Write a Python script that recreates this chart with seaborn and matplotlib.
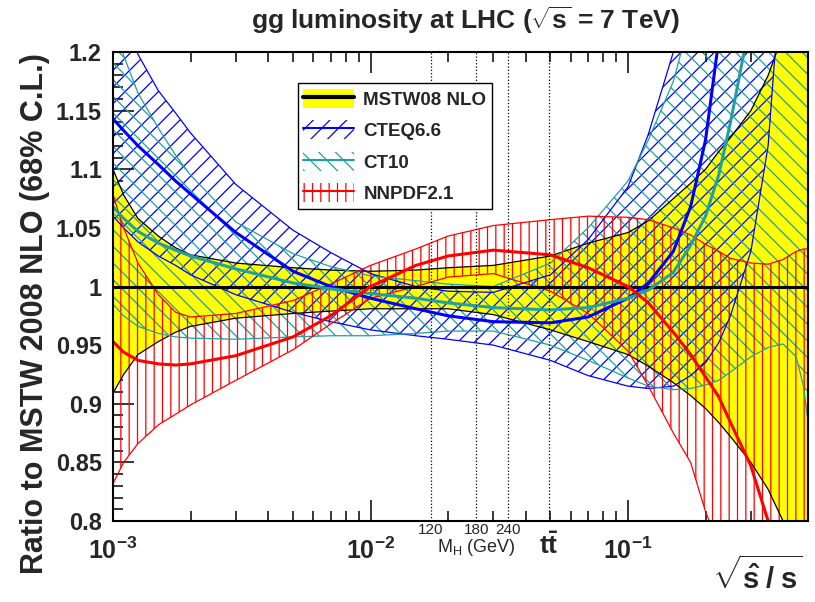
import matplotlib
matplotlib.use('Agg')
import matplotlib.pyplot as plt
import seaborn as sns
from matplotlib import font_manager
from matplotlib.patches import Patch
from matplotlib.lines import Line2D
from matplotlib.ticker import LogLocator, NullFormatter, MultipleLocator

# sqrt(shat/s) sampling points
tau = [0.001, 0.0011, 0.00125, 0.0015, 0.00175, 0.002, 0.003, 0.005, 0.007, 0.01,
       0.015, 0.02, 0.03, 0.05, 0.07, 0.1, 0.12, 0.15, 0.175, 0.2,
       0.225, 0.25, 0.3, 0.35, 0.4, 0.45, 0.48, 0.5]

# MSTW08 NLO band (central = 1)
mstw_c = [1.0] * len(tau)
mstw_up = [1.100, 1.078, 1.058, 1.043, 1.033, 1.027, 1.020, 1.016, 1.014, 1.013,
           1.014, 1.016, 1.018, 1.026, 1.037, 1.046, 1.056, 1.075, 1.088, 1.100,
           1.115, 1.127, 1.150, 1.180, 1.215, 1.250, 1.265, 1.280]
mstw_lo = [0.909, 0.925, 0.942, 0.953, 0.961, 0.966, 0.973, 0.977, 0.979, 0.981,
           0.981, 0.981, 0.976, 0.963, 0.953, 0.942, 0.932, 0.918, 0.907, 0.896,
           0.884, 0.872, 0.850, 0.827, 0.800, 0.770, 0.755, 0.740]

# CTEQ6.6
cteq_c = [1.143, 1.133, 1.120, 1.104, 1.090, 1.079, 1.046, 1.013, 1.000, 0.990,
          0.981, 0.975, 0.970, 0.969, 0.974, 0.990, 1.003, 1.030, 1.068, 1.125,
          1.210, 1.300, 1.450, 1.600, 1.800, 2.000, 2.100, 2.200]
cteq_up = [1.270, 1.235, 1.198, 1.167, 1.148, 1.131, 1.087, 1.048, 1.029, 1.011,
           1.000, 0.996, 0.995, 1.010, 1.040, 1.085, 1.130, 1.200, 1.270, 1.350,
           1.450, 1.550, 1.750, 1.950, 2.200, 2.400, 2.500, 2.600]
cteq_lo = [1.060, 1.050, 1.038, 1.026, 1.018, 1.010, 0.993, 0.978, 0.970, 0.963,
           0.958, 0.955, 0.950, 0.937, 0.924, 0.915, 0.913, 0.915, 0.924, 0.935,
           0.952, 0.975, 1.030, 1.120, 1.290, 1.450, 1.550, 1.650]

# CT10
ct10_c = [1.068, 1.058, 1.047, 1.037, 1.031, 1.026, 1.015, 1.003, 0.998, 0.994,
          0.990, 0.986, 0.982, 0.980, 0.982, 0.990, 0.997, 1.012, 1.035, 1.060,
          1.095, 1.140, 1.230, 1.330, 1.450, 1.550, 1.600, 1.650]
ct10_up = [1.240, 1.197, 1.165, 1.135, 1.112, 1.095, 1.055, 1.028, 1.017, 1.009,
           1.005, 1.002, 1.000, 1.020, 1.050, 1.090, 1.125, 1.175, 1.230, 1.290,
           1.350, 1.420, 1.550, 1.700, 1.850, 2.000, 2.100, 2.200]
ct10_lo = [0.985, 0.975, 0.966, 0.960, 0.957, 0.956, 0.955, 0.957, 0.958, 0.958,
           0.960, 0.962, 0.962, 0.950, 0.937, 0.922, 0.915, 0.912, 0.913, 0.916,
           0.920, 0.927, 0.940, 0.948, 0.951, 0.940, 0.915, 0.885]

# NNPDF2.1
nn_c = [0.953, 0.944, 0.937, 0.934, 0.933, 0.934, 0.941, 0.957, 0.975, 1.000,
        1.018, 1.026, 1.031, 1.027, 1.016, 1.000, 0.986, 0.961, 0.942, 0.923,
        0.906, 0.884, 0.847, 0.800, 0.760, 0.720, 0.700, 0.690]
nn_up = [1.078, 1.050, 1.020, 0.993, 0.978, 0.974, 0.977, 0.988, 1.002, 1.018,
         1.032, 1.043, 1.052, 1.057, 1.060, 1.059, 1.057, 1.050, 1.044, 1.036,
         1.030, 1.024, 1.020, 1.019, 1.023, 1.030, 1.032, 1.032]
nn_lo = [0.832, 0.850, 0.866, 0.882, 0.891, 0.899, 0.920, 0.946, 0.968, 0.990,
         1.000, 1.008, 1.011, 0.996, 0.977, 0.945, 0.915, 0.875, 0.850, 0.808,
         0.780, 0.750, 0.700, 0.650, 0.600, 0.550, 0.530, 0.500]

sqrt_s = 7000.0
mh_vals = [120, 180, 240]
m_top = 172.5

yticks = [0.8, 0.85, 0.9, 0.95, 1.0, 1.05, 1.1, 1.15, 1.2]
ytick_labels = ['0.8', '0.85', '0.9', '0.95', '1', '1.05', '1.1', '1.15', '1.2']
xticks = [1e-3, 1e-2, 1e-1]
xtick_labels = [r'$\mathbf{10^{-3}}$', r'$\mathbf{10^{-2}}$', r'$\mathbf{10^{-1}}$']

YELLOW = '#ffff00'
BLUE = '#0000ff'
TEAL = '#20a0a0'
RED = '#ff0000'

sns.set_style('ticks')
names = {f.name for f in font_manager.fontManager.ttflist}
FONT = 'Liberation Sans Narrow' if 'Liberation Sans Narrow' in names else 'Liberation Sans'
plt.rcParams['font.family'] = [FONT, 'DejaVu Sans']
plt.rcParams['mathtext.fontset'] = 'custom'
plt.rcParams['mathtext.rm'] = FONT
plt.rcParams['mathtext.it'] = FONT + ':italic'
plt.rcParams['mathtext.bf'] = FONT + ':bold'
plt.rcParams['mathtext.sf'] = FONT
plt.rcParams['hatch.linewidth'] = 0.9

fig = plt.figure(figsize=(8.15, 6.02), dpi=100)
ax = fig.add_axes([113 / 815, 81 / 602, 695 / 815, 469 / 602])
ax.set_xscale('log')
ax.set_xlim(1e-3, 0.5)
ax.set_ylim(0.8, 1.2)

# bands
ax.fill_between(tau, mstw_lo, mstw_up, facecolor=YELLOW, linewidth=0, zorder=1)
ax.fill_between(tau, cteq_lo, cteq_up, facecolor='none', edgecolor=BLUE,
                hatch='//', linewidth=0, zorder=3)
ax.fill_between(tau, ct10_lo, ct10_up, facecolor='none', edgecolor=TEAL,
                hatch='\\\\', linewidth=0, zorder=3)
ax.fill_between(tau, nn_lo, nn_up, facecolor='none', edgecolor=RED,
                hatch='||', linewidth=0, zorder=4)

# band edges
for arr, col in [(mstw_up, 'black'), (mstw_lo, 'black'),
                 (cteq_up, BLUE), (cteq_lo, BLUE),
                 (ct10_up, TEAL), (ct10_lo, TEAL),
                 (nn_up, RED), (nn_lo, RED)]:
    sns.lineplot(x=tau, y=arr, ax=ax, color=col, lw=0.9, zorder=5,
                 legend=False, sort=False, estimator=None)

# central values
for arr, col in [(mstw_c, 'black'), (cteq_c, BLUE), (ct10_c, TEAL), (nn_c, RED)]:
    sns.lineplot(x=tau, y=arr, ax=ax, color=col, lw=2.2, zorder=6,
                 legend=False, sort=False, estimator=None)

# Higgs masses and ttbar threshold
for m in mh_vals:
    ax.axvline(m / sqrt_s, ls=':', color='black', lw=0.9, zorder=7)
    ax.text(m / sqrt_s, -0.004, str(m), transform=ax.get_xaxis_transform(),
            ha='center', va='top', size=11)
ax.axvline(2 * m_top / sqrt_s, ls=':', color='black', lw=0.9, zorder=7)
ax.text(180 / sqrt_s, -0.034, r'M$_{\rm H}$ (GeV)', transform=ax.get_xaxis_transform(),
        ha='center', va='top', size=13)
ax.text(2 * m_top / sqrt_s, -0.025, r'$\mathbf{t\bar{t}}$', transform=ax.get_xaxis_transform(),
        ha='center', va='top', size=19)

# axes / ticks
ax.set_yticks(yticks, ytick_labels)
ax.yaxis.set_minor_locator(MultipleLocator(0.01))
ax.set_xticks(xticks, xtick_labels)
ax.xaxis.set_minor_locator(LogLocator(base=10, subs=range(2, 10)))
ax.xaxis.set_minor_formatter(NullFormatter())
ax.tick_params(which='major', direction='in', length=15, width=1.1,
               top=True, right=True, color='black')
ax.tick_params(which='minor', direction='in', length=7, width=1.1,
               top=True, right=True, color='black')
ax.tick_params(axis='y', labelsize=17, pad=8)
ax.tick_params(axis='x', labelsize=18, pad=12)
for lab in ax.get_yticklabels():
    lab.set_fontweight('bold')
for sp in ax.spines.values():
    sp.set_linewidth(1.5)
    sp.set_color('black')
    sp.set_zorder(10)
ax.set_xlabel('')
ax.set_ylabel('')

# legend
handles = [
    (Patch(facecolor=YELLOW, edgecolor='none'), Line2D([], [], color='black', lw=3)),
    (Patch(facecolor='white', edgecolor=BLUE, hatch='//', lw=0), Line2D([], [], color=BLUE, lw=1.5)),
    (Patch(facecolor='white', edgecolor=TEAL, hatch='\\\\', lw=0), Line2D([], [], color=TEAL, lw=1.5)),
    (Patch(facecolor='white', edgecolor=RED, hatch='||', lw=0), Line2D([], [], color=RED, lw=1.5)),
]
labels = ['MSTW08 NLO', 'CTEQ6.6', 'CT10', 'NNPDF2.1']
leg = ax.legend(handles, labels, loc='upper left', bbox_to_anchor=(0.266, 0.934),
                borderaxespad=0, frameon=True, fancybox=False, edgecolor='black',
                framealpha=1, prop={'size': 13.5, 'weight': 'bold'},
                handlelength=2.7, handleheight=1.2, handletextpad=0.5,
                labelspacing=0.62, borderpad=0.3)
leg.get_frame().set_linewidth(1.0)
leg.set_zorder(20)

# titles
fig.text(465 / 815, 1 - 20 / 602, r'gg luminosity at LHC ($\sqrt{\mathbf{s}}$ = 7 TeV)',
         ha='center', va='center', size=19, weight='bold')
fig.text(35 / 815, 1 - 314 / 602, 'Ratio to MSTW 2008 NLO (68% C.L.)',
         rotation=90, ha='center', va='center', size=22, weight='bold')
fig.text(0.985, 1 - 576 / 602, r'$\sqrt{\mathbf{\hat{s}\;/\;s}}$',
         ha='right', va='center', size=21)

fig.savefig('out.png', dpi=100)
